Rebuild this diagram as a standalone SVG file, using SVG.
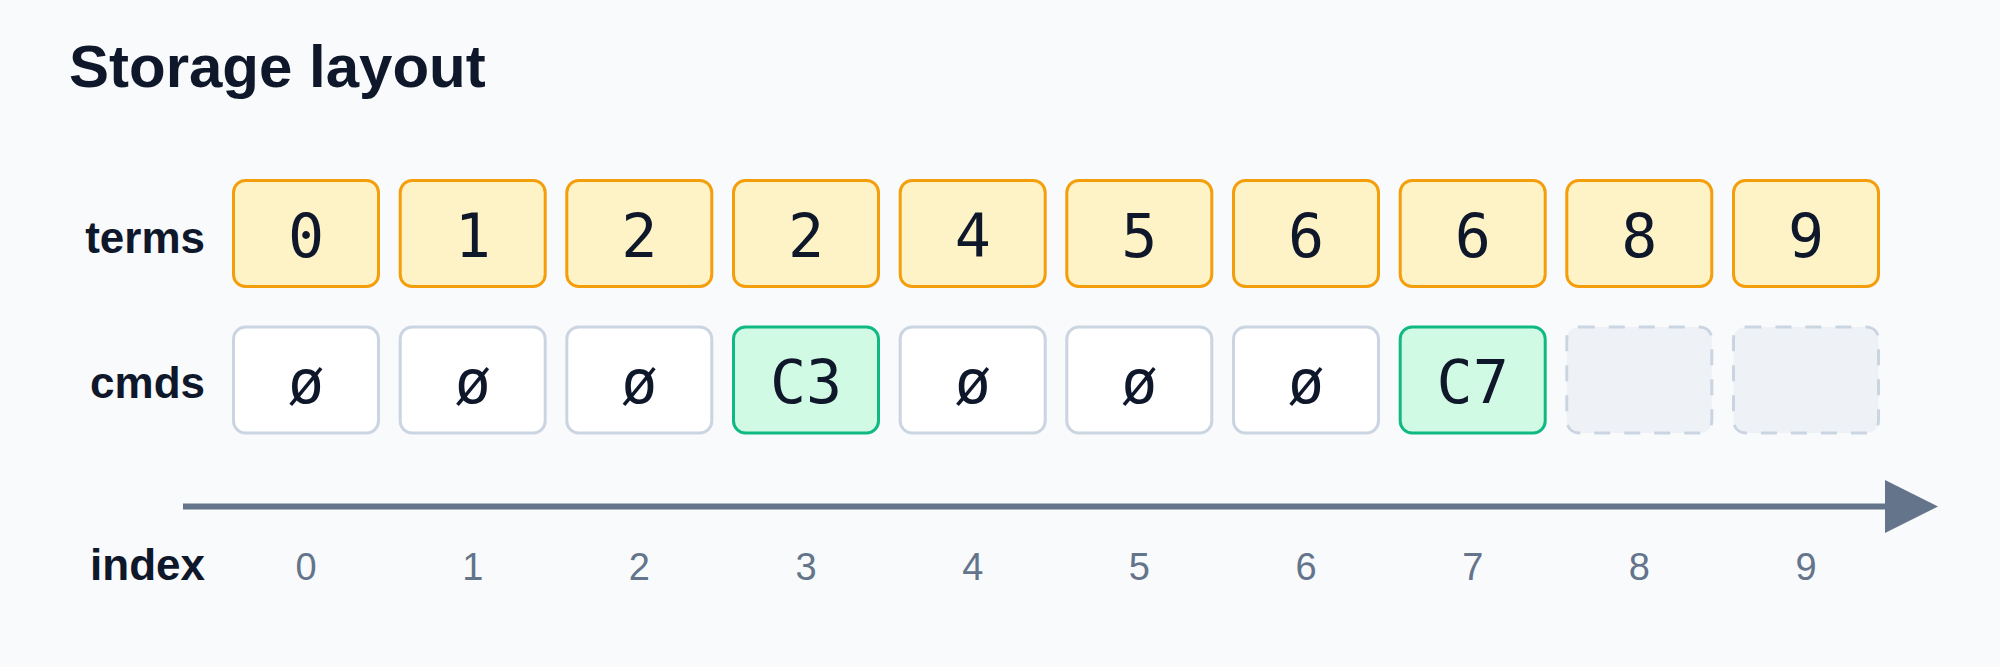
<svg xmlns="http://www.w3.org/2000/svg" width="2000" height="667" viewBox="0 0 2000 667">
  <style>
    .title { font-family: "Liberation Sans", Arial, sans-serif; font-weight: bold; font-size: 60px; fill: #0F172A; }
    .lbl { font-family: "Liberation Sans", Arial, sans-serif; font-weight: bold; font-size: 44px; fill: #0F172A; text-anchor: end; }
    .val { font-family: "DejaVu Sans Mono", "Liberation Mono", monospace; font-size: 60px; fill: #0F172A; text-anchor: middle; }
    .idx { font-family: "Liberation Sans", Arial, sans-serif; font-size: 38px; fill: #64748B; text-anchor: middle; }
    .term { fill: #FEF3C7; stroke: #F59E0B; stroke-width: 3; }
    .cmd { fill: #FFFFFF; stroke: #CBD5E1; stroke-width: 3; }
    .cmdset { fill: #D1FAE5; stroke: #10B981; stroke-width: 3; }
    .empty { fill: #EEF2F6; stroke: #CBD5E1; stroke-width: 3; stroke-dasharray: 16 14; }
    .axis { stroke: #64748B; stroke-width: 6; fill: none; }
  </style>
  <defs>
    <marker id="arrowhead" markerUnits="userSpaceOnUse" markerWidth="53" markerHeight="53" viewBox="0 0 53 53" refX="1" refY="26.5" orient="auto">
      <polygon points="0,0 53,26.5 0,53" fill="#64748B"/>
    </marker>
  </defs>
  <rect x="0" y="0" width="2000" height="667" fill="#F8FAFC"/>
  <text class="title" x="69" y="87">Storage layout</text>

  <g id="labels">
    <text class="lbl" x="205" y="253">terms</text>
    <text class="lbl" x="205" y="398">cmds</text>
    <text class="lbl" x="205" y="580">index</text>
  </g>

  <g id="connectors">
    <line class="axis" x1="183" y1="506.5" x2="1886" y2="506.5" marker-end="url(#arrowhead)"/>
  </g>

  <g id="terms">
    <g id="term-0"><rect class="term" x="233.5" y="180.5" width="145" height="106" rx="12"/><text class="val" x="306" y="257">0</text></g>
    <g id="term-1"><rect class="term" x="400.2" y="180.5" width="145" height="106" rx="12"/><text class="val" x="472.7" y="257">1</text></g>
    <g id="term-2"><rect class="term" x="566.8" y="180.5" width="145" height="106" rx="12"/><text class="val" x="639.3" y="257">2</text></g>
    <g id="term-3"><rect class="term" x="733.5" y="180.5" width="145" height="106" rx="12"/><text class="val" x="806" y="257">2</text></g>
    <g id="term-4"><rect class="term" x="900.2" y="180.5" width="145" height="106" rx="12"/><text class="val" x="972.7" y="257">4</text></g>
    <g id="term-5"><rect class="term" x="1066.8" y="180.5" width="145" height="106" rx="12"/><text class="val" x="1139.3" y="257">5</text></g>
    <g id="term-6"><rect class="term" x="1233.5" y="180.5" width="145" height="106" rx="12"/><text class="val" x="1306" y="257">6</text></g>
    <g id="term-7"><rect class="term" x="1400.2" y="180.5" width="145" height="106" rx="12"/><text class="val" x="1472.7" y="257">6</text></g>
    <g id="term-8"><rect class="term" x="1566.8" y="180.5" width="145" height="106" rx="12"/><text class="val" x="1639.3" y="257">8</text></g>
    <g id="term-9"><rect class="term" x="1733.5" y="180.5" width="145" height="106" rx="12"/><text class="val" x="1806" y="257">9</text></g>
  </g>

  <g id="cmds">
    <g id="cmd-0"><rect class="cmd" x="233.5" y="327" width="145" height="106" rx="12"/><text class="val" x="306" y="403">ø</text></g>
    <g id="cmd-1"><rect class="cmd" x="400.2" y="327" width="145" height="106" rx="12"/><text class="val" x="472.7" y="403">ø</text></g>
    <g id="cmd-2"><rect class="cmd" x="566.8" y="327" width="145" height="106" rx="12"/><text class="val" x="639.3" y="403">ø</text></g>
    <g id="cmd-3"><rect class="cmdset" x="733.5" y="327" width="145" height="106" rx="12"/><text class="val" x="806" y="403">C3</text></g>
    <g id="cmd-4"><rect class="cmd" x="900.2" y="327" width="145" height="106" rx="12"/><text class="val" x="972.7" y="403">ø</text></g>
    <g id="cmd-5"><rect class="cmd" x="1066.8" y="327" width="145" height="106" rx="12"/><text class="val" x="1139.3" y="403">ø</text></g>
    <g id="cmd-6"><rect class="cmd" x="1233.5" y="327" width="145" height="106" rx="12"/><text class="val" x="1306" y="403">ø</text></g>
    <g id="cmd-7"><rect class="cmdset" x="1400.2" y="327" width="145" height="106" rx="12"/><text class="val" x="1472.7" y="403">C7</text></g>
    <g id="cmd-8"><rect class="empty" x="1566.8" y="327" width="145" height="106" rx="12"/></g>
    <g id="cmd-9"><rect class="empty" x="1733.5" y="327" width="145" height="106" rx="12"/></g>
  </g>

  <g id="index">
    <text class="idx" x="306" y="580">0</text>
    <text class="idx" x="472.7" y="580">1</text>
    <text class="idx" x="639.3" y="580">2</text>
    <text class="idx" x="806" y="580">3</text>
    <text class="idx" x="972.7" y="580">4</text>
    <text class="idx" x="1139.3" y="580">5</text>
    <text class="idx" x="1306" y="580">6</text>
    <text class="idx" x="1472.7" y="580">7</text>
    <text class="idx" x="1639.3" y="580">8</text>
    <text class="idx" x="1806" y="580">9</text>
  </g>
</svg>
